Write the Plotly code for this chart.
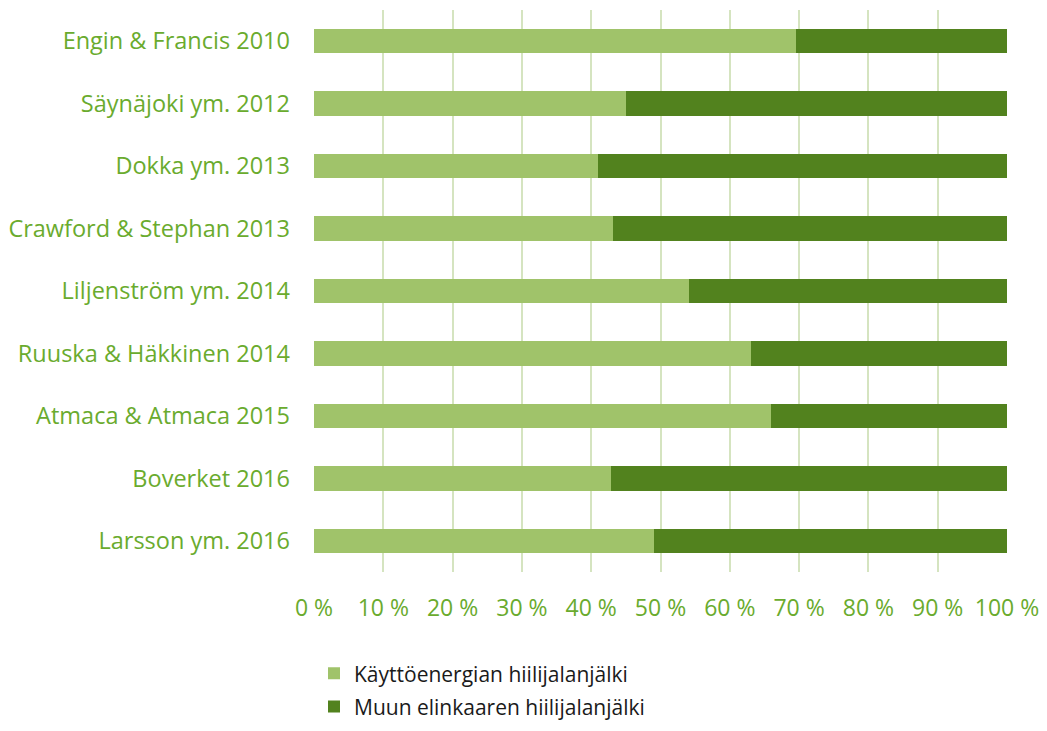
import plotly.graph_objects as go

categories = ["Engin & Francis 2010", "Säynäjoki ym. 2012", "Dokka ym. 2013",
              "Crawford & Stephan 2013", "Liljenström ym. 2014", "Ruuska & Häkkinen 2014",
              "Atmaca & Atmaca 2015", "Boverket 2016", "Larsson ym. 2016"]
kaytto = [69.5, 45.0, 41.0, 43.1, 54.1, 63.1, 66.0, 42.9, 49.1]
muu = [100 - v for v in kaytto]
tick_vals = [0, 10, 20, 30, 40, 50, 60, 70, 80, 90, 100]
tick_text = [f"{v} %" for v in tick_vals]

light = "#a0c36a"
dark = "#52821e"
label_col = "#6aab2e"
font_family = "Open Sans, Noto Sans, sans-serif"

fig = go.Figure()
fig.add_trace(go.Bar(y=categories, x=kaytto, orientation="h", name="Käyttöenergian hiilijalanjälki",
                     marker=dict(color=light, line=dict(width=0)), legend="legend"))
fig.add_trace(go.Bar(y=categories, x=muu, orientation="h", name="Muun elinkaaren hiilijalanjälki",
                     marker=dict(color=dark, line=dict(width=0)), legend="legend2"))

fig.update_layout(
    barmode="stack",
    bargap=0.61,
    width=1031, height=715,
    margin=dict(l=306, r=32, t=2, b=151, autoexpand=False),
    paper_bgcolor="white", plot_bgcolor="white",
    font=dict(family=font_family, color=label_col, size=20),
    xaxis=dict(range=[0, 100], tickvals=tick_vals, ticktext=tick_text,
               showgrid=True, gridcolor="#d5e4c0", gridwidth=2, zeroline=False,
               showline=False, ticks="", tickfont=dict(size=23, color=label_col),
               ticklabelstandoff=20, automargin=False, ticklabeloverflow="allow"),
    yaxis=dict(categoryorder="array", categoryarray=categories, autorange="reversed",
               showgrid=False, ticks="", showline=False, automargin=False,
               tickfont=dict(size=23.5, color=label_col), ticklabelstandoff=23),
    legend=dict(x=0.0, y=-0.181, xanchor="left", yanchor="middle", yref="paper",
                font=dict(size=21, color="#1a1a1a", family=font_family),
                bgcolor="rgba(0,0,0,0)"),
    legend2=dict(x=0.0, y=-0.240, xanchor="left", yanchor="middle", yref="paper",
                 font=dict(size=21, color="#1a1a1a", family=font_family),
                 bgcolor="rgba(0,0,0,0)"),
    showlegend=True,
)

fig.write_html("out.html")
